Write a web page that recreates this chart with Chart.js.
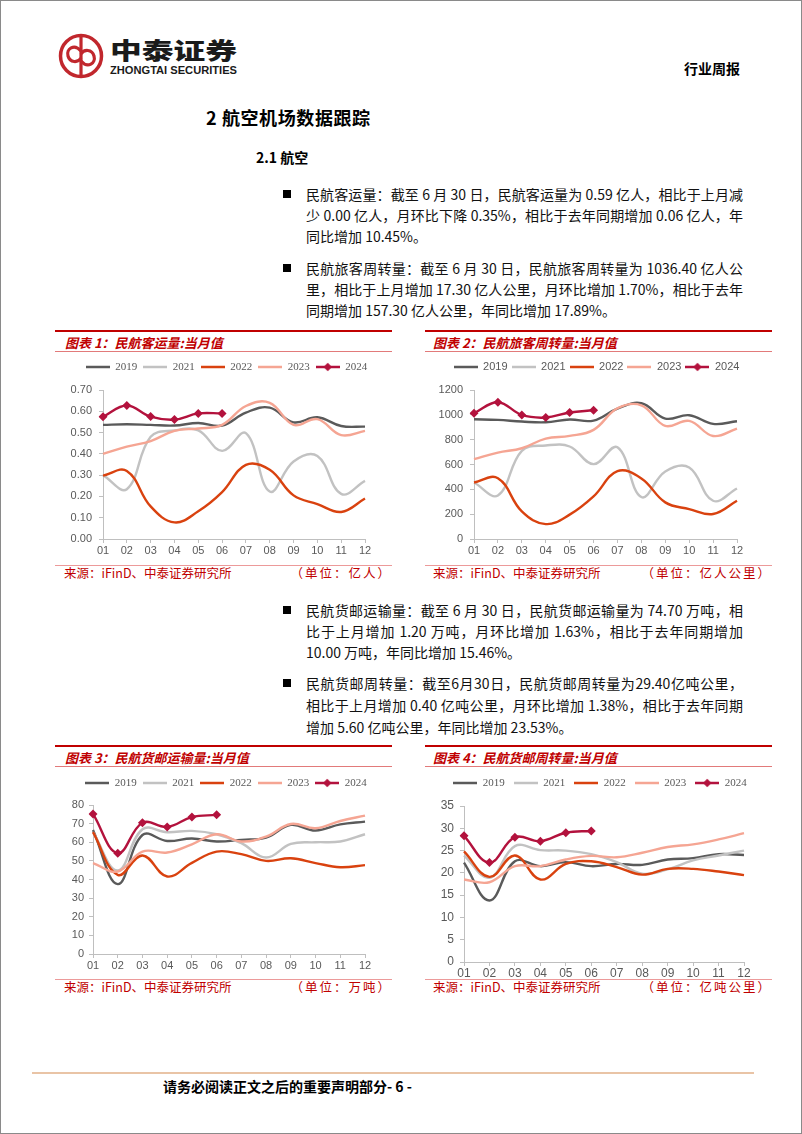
<!DOCTYPE html>
<html><head><meta charset="utf-8">
<script src="https://cdn.jsdelivr.net/npm/chart.js@4.4.1/dist/chart.umd.min.js"></script>
<style>
html,body{margin:0;padding:0;background:#fff;}
#page{position:relative;width:802px;height:1134px;overflow:hidden;font-family:"Noto Sans CJK SC","Noto Sans",sans-serif;background:#fff;}
#frame{position:absolute;left:0;top:0;width:802px;height:1134px;box-sizing:border-box;border:1px solid #8a8a8a;pointer-events:none;}
.abs{position:absolute;white-space:nowrap;}
.ln{position:absolute;left:306px;width:437px;height:20px;line-height:20px;font-size:14px;color:#111;text-align:justify;text-align-last:justify;white-space:nowrap;}
.ln.last{text-align-last:left;}
.sq{position:absolute;left:283px;width:8px;height:8px;background:#000;}
.rule{position:absolute;}
.ctitle{position:absolute;font-size:13px;font-weight:bold;font-style:italic;color:#c00000;line-height:16px;white-space:nowrap;}
.src{position:absolute;font-size:12.5px;color:#c00000;line-height:14px;white-space:nowrap;}
.unit{position:absolute;font-size:12.5px;color:#c00000;line-height:14px;white-space:nowrap;text-align:right;letter-spacing:2px;}
canvas{position:absolute;}
</style>
</head>
<body>
<div id="page">
  <svg width="200" height="60" style="position:absolute;left:55px;top:27px">
    <circle cx="26" cy="29" r="20.5" fill="none" stroke="#c1272d" stroke-width="3.5"/>
    <path d="M26 9 V49" stroke="#c1272d" stroke-width="3.2" fill="none"/>
    <path d="M26 24 C19 16, 11 22, 13 29 C15 36, 23 36, 26 31" fill="none" stroke="#c1272d" stroke-width="3.2"/>
    <path d="M26 34 C33 42, 41 36, 39 29 C37 22, 29 22, 26 27" fill="none" stroke="#c1272d" stroke-width="3.2"/>
    <text x="55" y="32" font-size="23" font-weight="900" textLength="127" lengthAdjust="spacingAndGlyphs" font-family="Noto Sans CJK SC" fill="#1a1a1a">中泰证券</text>
    <text x="55" y="47" font-size="10.5" font-weight="bold" textLength="127" lengthAdjust="spacingAndGlyphs" font-family="Liberation Sans" fill="#1a1a1a">ZHONGTAI SECURITIES</text>
  </svg>
  <div class="abs" style="left:684px;top:59px;font-size:14px;font-weight:bold;line-height:18px;">行业周报</div>
  <div class="abs" style="left:206px;top:106px;font-size:18px;font-weight:bold;line-height:22px;letter-spacing:0.6px;">2 航空机场数据跟踪</div>
  <div class="abs" style="left:256px;top:148px;font-size:14px;font-weight:bold;line-height:18px;">2.1 航空</div>

  <div class="sq" style="top:190px"></div>
  <div class="ln" style="top:184px">民航客运量：截至 6 月 30 日，民航客运量为 0.59 亿人，相比于上月减</div>
  <div class="ln" style="top:205px">少 0.00 亿人，月环比下降 0.35%，相比于去年同期增加 0.06 亿人，年</div>
  <div class="ln last" style="top:226px">同比增加 10.45%。</div>

  <div class="sq" style="top:264px"></div>
  <div class="ln" style="top:258px">民航旅客周转量：截至 6 月 30 日，民航旅客周转量为 1036.40 亿人公</div>
  <div class="ln" style="top:279px">里，相比于上月增加 17.30 亿人公里，月环比增加 1.70%，相比于去年</div>
  <div class="ln last" style="top:300px">同期增加 157.30 亿人公里，年同比增加 17.89%。</div>

  <div class="sq" style="top:606px"></div>
  <div class="ln" style="top:600px">民航货邮运输量：截至 6 月 30 日，民航货邮运输量为 74.70 万吨，相</div>
  <div class="ln" style="top:621px">比于上月增加 1.20 万吨，月环比增加 1.63%，相比于去年同期增加</div>
  <div class="ln last" style="top:642px">10.00 万吨，年同比增加 15.46%。</div>

  <div class="sq" style="top:679px"></div>
  <div class="ln" style="top:673px">民航货邮周转量：截至6月30日，民航货邮周转量为29.40亿吨公里，</div>
  <div class="ln" style="top:695px">相比于上月增加 0.40 亿吨公里，月环比增加 1.38%，相比于去年同期</div>
  <div class="ln last" style="top:717px">增加 5.60 亿吨公里，年同比增加 23.53%。</div>

  <!-- chart frames -->
  <div class="rule" style="left:55px;top:330px;width:337px;height:2px;background:#c00000"></div>
  <div class="rule" style="left:55px;top:351px;width:337px;height:1px;background:#e27a7a"></div>
  <div class="rule" style="left:55px;top:565px;width:337px;height:1px;background:#ec9a9a"></div>
  <div class="ctitle" style="left:65px;top:335px">图表 1：民航客运量:当月值</div>
  <div class="src" style="left:64px;top:566px">来源：iFinD、中泰证券研究所</div>
  <div class="unit" style="left:250px;width:142px;top:566px">（单位：亿人）</div>

  <div class="rule" style="left:425px;top:330px;width:347px;height:2px;background:#c00000"></div>
  <div class="rule" style="left:425px;top:351px;width:347px;height:1px;background:#e27a7a"></div>
  <div class="rule" style="left:425px;top:565px;width:347px;height:1px;background:#ec9a9a"></div>
  <div class="ctitle" style="left:433px;top:335px">图表 2：民航旅客周转量:当月值</div>
  <div class="src" style="left:433px;top:566px">来源：iFinD、中泰证券研究所</div>
  <div class="unit" style="left:570px;width:202px;top:566px">（单位：亿人公里）</div>

  <div class="rule" style="left:55px;top:745px;width:337px;height:2px;background:#c00000"></div>
  <div class="rule" style="left:55px;top:766px;width:337px;height:1px;background:#e27a7a"></div>
  <div class="rule" style="left:55px;top:979px;width:337px;height:1px;background:#ec9a9a"></div>
  <div class="ctitle" style="left:65px;top:750px">图表 3：民航货邮运输量:当月值</div>
  <div class="src" style="left:64px;top:980px">来源：iFinD、中泰证券研究所</div>
  <div class="unit" style="left:250px;width:142px;top:980px">（单位：万吨）</div>

  <div class="rule" style="left:425px;top:745px;width:347px;height:2px;background:#c00000"></div>
  <div class="rule" style="left:425px;top:766px;width:347px;height:1px;background:#e27a7a"></div>
  <div class="rule" style="left:425px;top:979px;width:347px;height:1px;background:#ec9a9a"></div>
  <div class="ctitle" style="left:433px;top:750px">图表 4：民航货邮周转量:当月值</div>
  <div class="src" style="left:433px;top:980px">来源：iFinD、中泰证券研究所</div>
  <div class="unit" style="left:570px;width:202px;top:980px">（单位：亿吨公里）</div>

  <canvas id="c1" width="345" height="210" style="left:55px;top:350px"></canvas>
  <canvas id="c2" width="355" height="210" style="left:425px;top:350px"></canvas>
  <canvas id="c3" width="345" height="210" style="left:55px;top:765px"></canvas>
  <canvas id="c4" width="355" height="220" style="left:425px;top:765px"></canvas>

  <div class="rule" style="left:32px;top:1072px;width:722px;height:2px;background:#e9c4a6"></div>
  <div class="abs" style="left:163px;top:1077px;font-size:14px;font-weight:bold;line-height:18px;">请务必阅读正文之后的重要声明部分- 6 -</div>
  <div id="frame"></div>
</div>
<script>
// ---------- data ----------
const months = ['01','02','03','04','05','06','07','08','09','10','11','12'];
const years = ['2019','2021','2022','2023','2024'];

// 图表1 民航客运量（亿人）
const pax2019 = [0.536,0.539,0.536,0.533,0.545,0.533,0.594,0.617,0.548,0.572,0.531,0.528];
const pax2021 = [0.300,0.234,0.480,0.510,0.510,0.414,0.497,0.223,0.364,0.390,0.212,0.273];
const pax2022 = [0.298,0.320,0.153,0.078,0.130,0.220,0.348,0.325,0.205,0.164,0.127,0.190];
const pax2023 = [0.400,0.434,0.460,0.508,0.519,0.536,0.625,0.640,0.536,0.563,0.488,0.508];
const pax2024 = [0.574,0.627,0.575,0.561,0.590,0.590];

// 图表2 民航旅客周转量（亿人公里）
const rpk2019 = [964,959,946,940,962,954,1050,1093,970,997,927,948];
const rpk2021 = [455,351,710,753,745,603,739,338,544,576,308,407];
const rpk2022 = [455,490,222,120,196,343,546,488,295,241,201,308];
const rpk2023 = [643,696,731,809,830,879,1053,1077,911,951,830,889];
const rpk2024 = [1013,1101,999,978,1019,1036.4];

// 图表3 民航货邮运输量（万吨）
const cargo2019 = [66.6,37.5,63.9,60.7,62.0,60.4,61.3,62.5,69.3,66.3,69.6,71.1];
const cargo2021 = [65.4,44.8,67.0,65.4,66.1,64.3,59.5,51.8,59.1,60.0,60.4,64.3];
const cargo2022 = [65.4,42.5,52.9,41.6,48.9,55.0,53.6,50.0,51.4,48.8,46.6,47.7];
const cargo2023 = [48.8,44.3,55.0,54.5,58.9,64.3,60.4,63.0,69.8,67.5,71.4,74.3];
const cargo2024 = [75.2,54.1,70.5,68.2,73.5,74.7];

// 图表4 民航货邮周转量（亿吨公里）
const ctk2019 = [22.3,13.8,22.6,21.5,22.4,21.5,22.0,21.8,23.0,23.3,24.2,24.0];
const ctk2021 = [23.9,18.9,26.0,25.1,25.0,24.2,22.4,19.8,20.8,22.8,23.9,25.0];
const ctk2022 = [24.8,19.1,23.9,18.5,22.0,22.6,21.3,19.6,20.9,20.9,20.3,19.5];
const ctk2023 = [18.5,17.9,21.5,21.5,23.0,23.8,23.5,24.5,25.8,26.4,27.5,28.9];
const ctk2024 = [28.3,22.3,28.0,27.1,29.0,29.4];

// ---------- styles ----------
const COLORS = {'2019':'#5a5a5a','2021':'#c2c2c2','2022':'#d9420f','2023':'#f5a593','2024':'#b3123d'};
const TICK_COLOR = '#595959';
const AXIS_COLOR = '#bfbfbf';

function legendIcon(color, diamond){
  const c = document.createElement('canvas');
  c.width = 24; c.height = 10;
  const x = c.getContext('2d');
  x.strokeStyle = color; x.lineWidth = 2.5;
  x.beginPath(); x.moveTo(0,5); x.lineTo(24,5); x.stroke();
  if (diamond){
    x.fillStyle = color; x.beginPath();
    x.moveTo(12,0.8); x.lineTo(16.2,5); x.lineTo(12,9.2); x.lineTo(7.8,5); x.closePath(); x.fill();
  }
  return c;
}

function makeChart(id, seriesData, g){
  const icons = years.map(y => legendIcon(COLORS[y], y === '2024'));
  const datasets = years.map((y, i) => ({
    label: y,
    data: seriesData[i],
    borderColor: COLORS[y],
    backgroundColor: COLORS[y],
    borderWidth: 2.4,
    tension: 0.4,
    fill: false,
    pointRadius: y === '2024' ? 4.5 : 0,
    pointStyle: 'rectRot',
    pointBorderWidth: 0,
    order: 5 - i
  }));
  const legendPlugin = {
    id: 'legendTweak',
    afterInit(chart){
      const lg = chart.legend;
      if (!lg) return;
      const f = lg.fit;
      lg.fit = function(){
        const mw = this.maxWidth;
        this.maxWidth = mw + 200;
        f.call(this);
        this.maxWidth = mw;
        this.height += g.extra;
      };
    },
    afterLayout(chart){
      const lg = chart.legend;
      if (!lg) return;
      const dx = g.lcx - ((lg.left + lg.right) / 2);
      lg.left += dx; lg.right += dx;
    }
  };
  const axisGrid = {display:true, drawOnChartArea:false, drawTicks:true, tickLength:4, color:AXIS_COLOR, lineWidth:1};
  new Chart(document.getElementById(id), {
    type: 'line',
    data: { labels: months, datasets },
    options: {
      responsive: false,
      animation: false,
      events: [],
      layout: { padding: g.pad },
      plugins: {
        tooltip: {enabled:false},
        title: {display:false},
        legend: {
          display: true,
          position: 'top',
          labels: {
            usePointStyle: true,
            pointStyleWidth: 24,
            padding: g.lp,
            color: TICK_COLOR,
            font: {family: g.legendFont, size: 11},
            generateLabels(chart){
              return chart.data.datasets.map((ds, i) => ({
                text: ds.label, fillStyle: ds.borderColor, strokeStyle: ds.borderColor,
                lineWidth: 0, pointStyle: icons[i], hidden: false, datasetIndex: i, fontColor: TICK_COLOR
              }));
            }
          }
        }
      },
      scales: {
        x: {
          type: 'category', offset: false,
          grid: axisGrid,
          border: {display:true, color:AXIS_COLOR, width:1},
          ticks: {color:TICK_COLOR, font:{family:'Liberation Sans', size:g.fs}, padding:g.xpad, maxRotation:0, autoSkip:false},
          afterFit(s){ s.height = g.xh; }
        },
        y: {
          min: g.min, max: g.max,
          grid: axisGrid,
          border: {display:true, color:AXIS_COLOR, width:1},
          ticks: {color:TICK_COLOR, font:{family:'Liberation Sans', size:g.fs}, padding:g.ypad, stepSize:g.step,
                  callback: v => Number(v).toFixed(g.dec)},
          afterFit(s){ s.width = g.yw; }
        }
      }
    },
    plugins: [legendPlugin]
  });
}

// lcx: legend centre in canvas coordinates
makeChart('c1', [pax2019,pax2021,pax2022,pax2023,pax2024],
  {pad:{left:0,right:35,top:5.5,bottom:0}, yw:48, xh:21, extra:7.5, lp:6, legendFont:'Liberation Serif', lcx:171.5,
   fs:11, xpad:1, ypad:7, min:0, max:0.7, step:0.1, dec:2});
makeChart('c2', [rpk2019,rpk2021,rpk2022,rpk2023,rpk2024],
  {pad:{left:0,right:43,top:7.5,bottom:0}, yw:49, xh:21, extra:7.5, lp:4, legendFont:'Liberation Sans', lcx:171.5,
   fs:11, xpad:1, ypad:7, min:0, max:1200, step:200, dec:0});
makeChart('c3', [cargo2019,cargo2021,cargo2022,cargo2023,cargo2024],
  {pad:{left:0,right:35,top:6.5,bottom:0}, yw:38, xh:21, extra:6.5, lp:6, legendFont:'Liberation Serif', lcx:171,
   fs:11, xpad:1, ypad:5, min:0, max:80, step:10, dec:0});
makeChart('c4', [ctk2019,ctk2021,ctk2022,ctk2023,ctk2024],
  {pad:{left:0,right:36,top:3.5,bottom:0}, yw:39, xh:23, extra:7.5, lp:9, legendFont:'Liberation Serif', lcx:175,
   fs:12, xpad:0, ypad:6, min:0, max:35, step:5, dec:0});
</script>
</body></html>
